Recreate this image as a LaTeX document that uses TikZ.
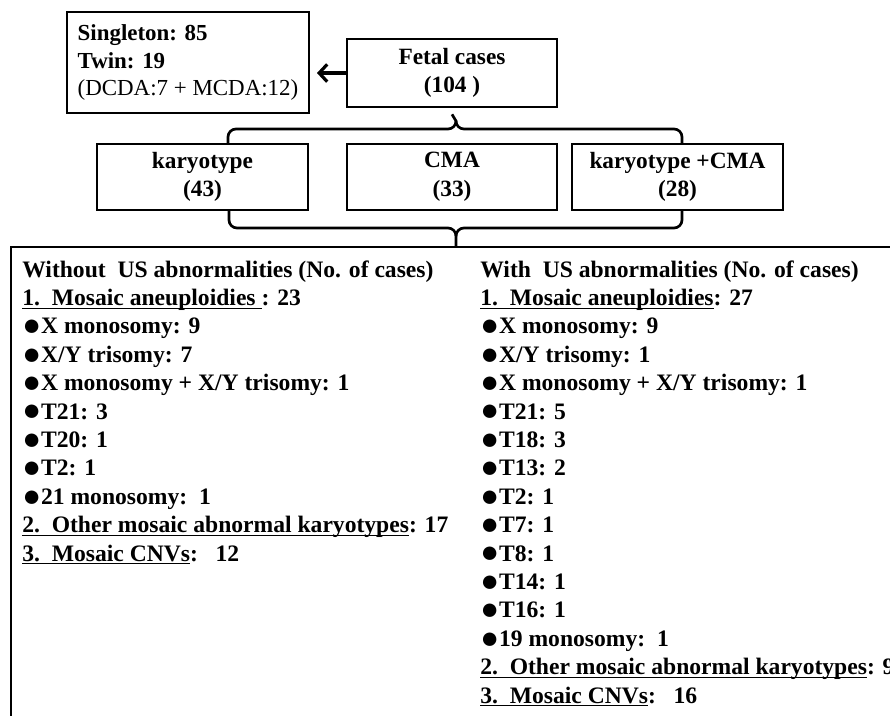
\documentclass[tikz,border=0pt]{standalone}
\usepackage{fontspec}
\usepackage{graphicx}
\setmainfont{Liberation Serif}
\usetikzlibrary{arrows.meta,calc}
\newcommand{\ulx}[1]{\setbox0=\hbox{#1}\rlap{\rule[-2.6pt]{\wd0}{0.9pt}}\box0}
\newcommand{\bul}{\raisebox{-1.4pt}{\scalebox{1.32}{●}}}
\begin{document}
\begin{tikzpicture}[x=0.75pt,y=-0.75pt,
  box/.style={draw, line width=2pt, inner sep=0pt, align=center,
    font=\bfseries\fontsize{17.5pt}{21.5pt}\selectfont},
  brace/.style={line width=2pt},
  item/.style={anchor=base west, inner sep=0pt,
    font=\bfseries\fontsize{17.7pt}{21pt}\selectfont}]
\useasboundingbox (0,0) rectangle (890,715);
\fill[white] (0,0) rectangle (890,715);

% top boxes
\node[box, minimum width=181.5pt, minimum height=75.75pt, align=left,
  font=\bfseries\fontsize{17.2pt}{20.8pt}\selectfont] (single) at (188,62.5)
  {Singleton: 85\\Twin: 19\\{\mdseries (DCDA:7 + MCDA:12)}};
\node[box, minimum width=157.5pt, minimum height=51pt] (fetal) at (452,73)
  {Fetal cases\\(104 )};
\node[box, minimum width=158.25pt, minimum height=49.5pt] (kar) at (202.5,177)
  {karyotype\\(43)};
\node[box, minimum width=157.5pt, minimum height=49.5pt] (cma) at (452,177)
  {CMA\\(33)};
\node[box, minimum width=158.25pt, minimum height=49.5pt] (kc) at (677.5,177)
  {karyotype +CMA\\(28)};

% arrow
\draw[line width=2.4pt, -{Straight Barb[length=6pt,width=13pt]}, shorten >=5pt]
  (fetal.west) -- (fetal.west -| single.east);

% top brace
\coordinate (tbl) at (228,144);
\coordinate (tbr) at (682,144);
\coordinate (tbm) at ($(fetal.south)+(0,6)$);
\draw[brace] (tbl) -- (228,137) to[out=90,in=180] (236,129) -- (448,129)
  to[out=0,in=-90] (456,121) -- (tbm);
\draw[brace] (tbr) -- (682,137) to[out=90,in=0] (674,129) -- (464,129)
  to[out=180,in=-90] (456,121);

% bottom brace
\coordinate (bbl) at (229,211);
\coordinate (bbr) at (682,211);
\coordinate (bbm) at (456,246);
\draw[brace] (bbl) -- (229,220) to[out=-90,in=180] (237,228) -- (448,228)
  to[out=0,in=90] (456,236) -- (bbm);
\draw[brace] (bbr) -- (682,220) to[out=-90,in=0] (674,228) -- (464,228)
  to[out=180,in=90] (456,236);

% big box (cut by the page edge)
\coordinate (bigtr) at (895,247);
\coordinate (bigtl) at (11,247);
\coordinate (bigbl) at (11,720);
\draw[line width=2.2pt] (bigtr) -- (bigtl) -- (bigbl);

% left column
\node[item] (l0) at (22,277) {Without\ \ US abnormalities (No. of cases)};
\node[item] (l1) at (22,305.4) {\ulx{1.\ \ Mosaic aneuploidies\ }: 23};
\node[item] (l2) at (22,333.8) {\bul X monosomy: 9};
\node[item] (l3) at (22,362.2) {\bul X/Y trisomy: 7};
\node[item] (l4) at (22,390.6) {\bul X monosomy + X/Y trisomy: 1};
\node[item] (l5) at (22,419) {\bul T21: 3};
\node[item] (l6) at (22,447.4) {\bul T20: 1};
\node[item] (l7) at (22,475.8) {\bul T2: 1};
\node[item] (l8) at (22,504.2) {\bul 21 monosomy:\ \ 1};
\node[item] (l9) at (22,532.6) {\ulx{2.\ \ Other mosaic abnormal karyotypes}: 17};
\node[item] (l10) at (22,561) {\ulx{3.\ \ Mosaic CNVs}:\ \ \ 12};

% right column
\node[item] (r0) at (480,277) {With\ \ US abnormalities (No. of cases)};
\node[item] (r1) at (480,305.4) {\ulx{1.\ \ Mosaic aneuploidies}: 27};
\node[item] (r2) at (480,333.8) {\bul X monosomy: 9};
\node[item] (r3) at (480,362.2) {\bul X/Y trisomy: 1};
\node[item] (r4) at (480,390.6) {\bul X monosomy + X/Y trisomy: 1};
\node[item] (r5) at (480,419) {\bul T21: 5};
\node[item] (r6) at (480,447.4) {\bul T18: 3};
\node[item] (r7) at (480,475.8) {\bul T13: 2};
\node[item] (r8) at (480,504.2) {\bul T2: 1};
\node[item] (r9) at (480,532.6) {\bul T7: 1};
\node[item] (r10) at (480,561) {\bul T8: 1};
\node[item] (r11) at (480,589.4) {\bul T14: 1};
\node[item] (r12) at (480,617.8) {\bul T16: 1};
\node[item] (r13) at (480,646.2) {\bul 19 monosomy:\ \ 1};
\node[item] (r14) at (480,674.6) {\ulx{2.\ \ Other mosaic abnormal karyotypes}: 9};
\node[item] (r15) at (480,703) {\ulx{3.\ \ Mosaic CNVs}:\ \ \ 16};
\end{tikzpicture}
\end{document}
